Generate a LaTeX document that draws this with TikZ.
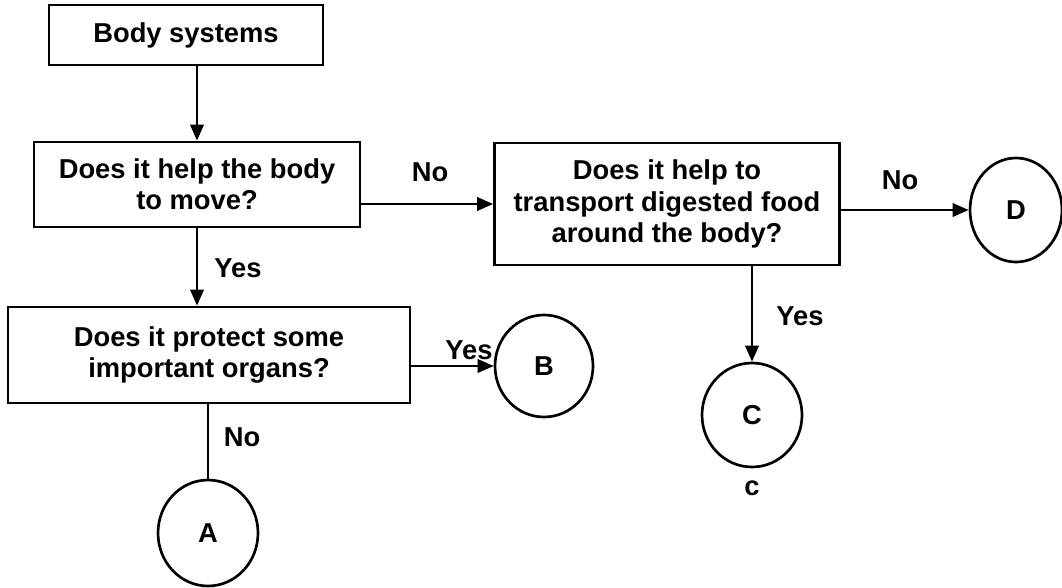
\documentclass[tikz,border=0pt]{standalone}
\usepackage{fontspec}
\setmainfont{Liberation Sans}
\usetikzlibrary{arrows.meta}
\usetikzlibrary{shapes.geometric}

\begin{document}
\begin{tikzpicture}[x=0.75pt,y=0.75pt,yscale=-1,xscale=1,
  txt/.style={font=\fontsize{20.5}{23.5}\selectfont\bfseries, inner sep=0.75pt},
  qbox/.style={txt, draw, line width=2pt, align=center},
  endpt/.style={txt, draw, ellipse, line width=2pt},
  flow/.style={line width=2pt, -{Triangle[length=12pt,width=10pt]}},
  plain/.style={line width=2pt}]
\useasboundingbox (0,0) rectangle (1062,588);

%Shape: Rectangle [id:sys]
\node [qbox, minimum width=205.5pt, minimum height=45pt] (sys) at (186,35) {Body systems};

%Shape: Rectangle [id:move]
\node [qbox, minimum width=244.5pt, minimum height=63.75pt] (move) at (197,184.5) {Does it help the body\\to move?};

%Shape: Rectangle [id:food]
\node [qbox, minimum width=258.75pt, minimum height=91.5pt] (food) at (667,204) {Does it help to\\transport digested food\\around the body?};

%Shape: Rectangle [id:protect]
\node [qbox, minimum width=301.5pt, minimum height=72pt] (protect) at (209,355) {Does it protect some\\important organs?};

%Shape: Ellipse [id:A]
\node [endpt, minimum width=75pt, minimum height=79.5pt] (A) at (208,533) {A};

%Shape: Ellipse [id:B]
\node [endpt, minimum width=73.5pt, minimum height=76.5pt] (B) at (544,366) {B};

%Shape: Ellipse [id:C]
\node [endpt, minimum width=75pt, minimum height=78pt] (C) at (752,415) {C};

%Shape: Ellipse [id:D]
\node [endpt, minimum width=69pt, minimum height=78pt] (D) at (1016,210) {D};

%Straight Lines
\draw [flow] (sys.south -| move.north) -- (move.north);
\draw [flow] (move.east |- food.west) -- (food.west);
\draw [flow] (food.east |- D.west) -- (D.west);
\draw [flow] (move.south) -- (move.south |- protect.north);
\draw [flow] (protect.east |- B.west) -- (B.west);
\draw [plain] (protect.south -| A.north) -- (A.north);
\draw [flow] (food.south -| C.north) -- (C.north);

% Text Node
\node [txt] (noFood) at (430,172) {No};
\node [txt] (noD) at (900,180) {No};
\node [txt] (yesProtect) at (238,268) {Yes};
\node [txt] (yesB) at (469,350) {Yes};
\node [txt] (noA) at (242,437) {No};
\node [txt] (yesC) at (800,316) {Yes};
\node [txt] (capC) at (752,488) {c};

\end{tikzpicture}
\end{document}
